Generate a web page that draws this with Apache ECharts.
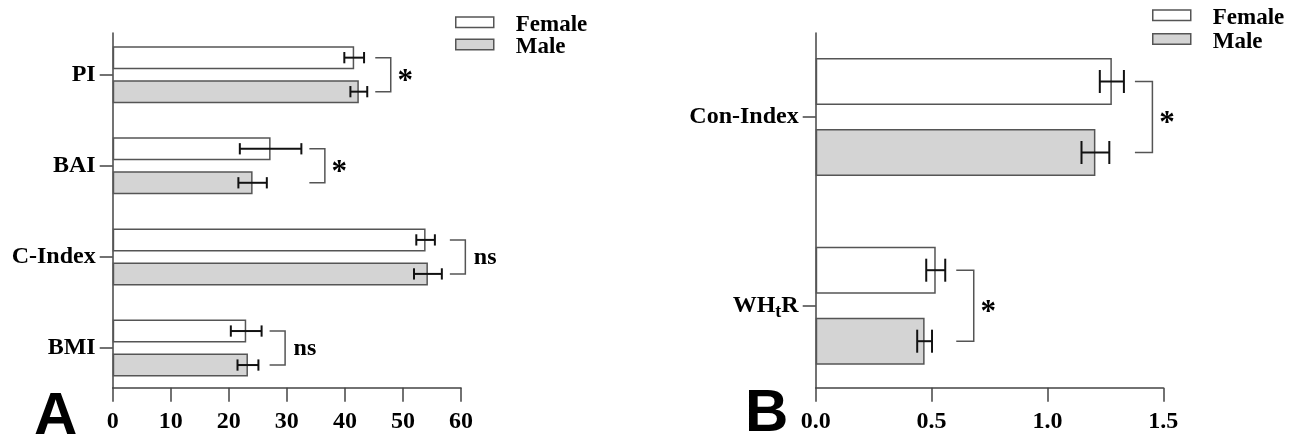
<!DOCTYPE html>
<html><head><meta charset="utf-8">
<script src="https://cdn.jsdelivr.net/npm/echarts@6/dist/echarts.min.js"></script>
<style>html,body{margin:0;padding:0;background:#fff}#c{width:1303px;height:436px}</style>
</head><body><div id="c"></div>
<script>
// ---------- Panel A data ----------
const catsA = ['PI', 'BAI', 'C-Index', 'BMI'];
const femaleA = [41.6, 27.2, 53.9, 23.0];
const femaleErrA = [1.7, 5.3, 1.6, 2.65];
const maleA = [42.4, 24.1, 54.3, 23.3];
const maleErrA = [1.45, 2.45, 2.4, 1.8];
const sigA = ['*', '*', 'ns', 'ns'];
const ticksA = [0, 10, 20, 30, 40, 50, 60];

// ---------- Panel B data ----------
const catsB = ['Con-Index', 'WHtR'];
const femaleB = [1.278, 0.518];
const femaleErrB = [0.052, 0.041];
const maleB = [1.207, 0.470];
const maleErrB = [0.060, 0.032];
const sigB = ['*', '*'];
const ticksB = [0.0, 0.5, 1.0, 1.5];

const seriesNames = ['Female', 'Male'];
const panelLetters = ['A', 'B'];

// ---------- layout / style ----------
const SERIF = '"Liberation Serif","Times New Roman",serif';
const SANS = '"Liberation Sans",Arial,sans-serif';
const AXIS_COLOR = '#444';
const BORDER = '#555';
const MALE_FILL = '#d4d4d4';

const panels = [
  { cats: catsA, f: femaleA, fe: femaleErrA, m: maleA, me: maleErrA, sig: sigA, ticks: ticksA, dec: 0,
    left: 112.7, width: 348.3, barsTop: 29.1, barsH: 364.5, barW: 23, gapPx: 11,
    brGap: 8, brW: 15.5, legendLeft: 455, legendTop: 8.2, legendGap: -5.6,
    letterX: 34, letterY: 421 },
  { cats: catsB, f: femaleB, fe: femaleErrB, m: maleB, me: maleErrB, sig: sigB, ticks: ticksB, dec: 1,
    left: 815.7, width: 347.6, barsTop: 22.65, barsH: 377.4, barW: 47, gapPx: 24,
    brGap: 11, brW: 17.5, legendLeft: 1152, legendTop: 1.2, legendGap: -4.1,
    letterX: 745, letterY: 418 }
];
const AXES_TOP = 33, AXES_H = 354.7;

const grid = [], xAxis = [], yAxis = [], series = [], legend = [], graphic = [];

panels.forEach((p, pi) => {
  p.barGap = (p.gapPx / p.barW * 100).toFixed(2) + '%';
  const ga = pi * 2, gb = pi * 2 + 1;
  const tmin = p.ticks[0], tmax = p.ticks[p.ticks.length - 1], tint = p.ticks[1] - p.ticks[0];
  grid.push({ left: p.left, top: AXES_TOP, width: p.width, height: AXES_H });
  grid.push({ left: p.left, top: p.barsTop, width: p.width, height: p.barsH });

  xAxis.push({
    gridIndex: ga, type: 'value', min: tmin, max: tmax, interval: tint,
    axisLine: { show: true, onZero: false, lineStyle: { color: AXIS_COLOR, width: 1.5 } },
    axisTick: { show: true, length: 14, lineStyle: { color: AXIS_COLOR, width: 1.5 } },
    axisLabel: { margin: 22, color: '#000', fontFamily: SERIF, fontWeight: 'bold', fontSize: 24,
      formatter: v => v.toFixed(p.dec) },
    splitLine: { show: false }
  });
  xAxis.push({ gridIndex: gb, type: 'value', min: tmin, max: tmax, interval: tint, show: false });

  yAxis.push({
    gridIndex: ga, type: 'value', min: 0, max: 1,
    axisLine: { show: true, onZero: false, lineStyle: { color: AXIS_COLOR, width: 1.5 } },
    axisTick: { show: false }, axisLabel: { show: false }, splitLine: { show: false }
  });
  yAxis.push({
    gridIndex: gb, type: 'category', data: p.cats, inverse: true,
    axisLine: { show: false },
    axisTick: { show: true, alignWithLabel: true, interval: 0, length: 13, lineStyle: { color: AXIS_COLOR, width: 1.5 } },
    axisLabel: {
      interval: 0, margin: 17, color: '#000',
      formatter: v => v === 'WHtR' ? '{n|WH}{s|t}{n|R}' : '{n|' + v + '}',
      rich: {
        n: { fontFamily: SERIF, fontWeight: 'bold', fontSize: 24, color: '#000' },
        s: { fontFamily: SERIF, fontWeight: 'bold', fontSize: 18, color: '#000', padding: [14, 0, 0, 0] }
      }
    },
    splitLine: { show: false }
  });

  const vals = [p.f, p.m], errs = [p.fe, p.me];
  seriesNames.forEach((nm, k) => {
    series.push({
      name: nm, type: 'bar', xAxisIndex: gb, yAxisIndex: gb,
      data: vals[k], barWidth: p.barW, barGap: p.barGap,
      itemStyle: { color: k === 0 ? '#ffffff' : MALE_FILL, borderColor: BORDER, borderWidth: 1.5 },
      emphasis: { disabled: true }, animation: false
    });
  });
  seriesNames.forEach((nm, k) => {
    series.push({
      name: nm, type: 'custom', xAxisIndex: gb, yAxisIndex: gb, z: 5, animation: false,
      data: vals[k].map((v, i) => [v, i, errs[k][i]]),
      encode: { x: 0, y: 1 },
      renderItem: (params, api) => {
        const v = api.value(0), i = api.value(1), e = api.value(2);
        const lay = api.barLayout({ barWidth: p.barW, barGap: p.barGap, count: 2 });
        const y = api.coord([v, i])[1] + lay[k].offsetCenter;
        const x1 = api.coord([v - e, i])[0], x2 = api.coord([v + e, i])[0];
        const h = p.barW * 0.49 / 2;
        const st = { stroke: '#111', lineWidth: 2 };
        return { type: 'group', children: [
          { type: 'line', shape: { x1: x1, y1: y, x2: x2, y2: y }, style: st },
          { type: 'line', shape: { x1: x1, y1: y - h, x2: x1, y2: y + h }, style: st },
          { type: 'line', shape: { x1: x2, y1: y - h, x2: x2, y2: y + h }, style: st }
        ] };
      }
    });
  });
  series.push({
    type: 'custom', xAxisIndex: gb, yAxisIndex: gb, z: 5, animation: false, silent: true,
    data: p.sig.map((s, i) => [0, i]), encode: { x: 0, y: 1 },
    renderItem: (params, api) => {
      const i = api.value(1);
      const lay = api.barLayout({ barWidth: p.barW, barGap: p.barGap, count: 2 });
      const yc = api.coord([0, i])[1];
      const yF = yc + lay[0].offsetCenter, yM = yc + lay[1].offsetCenter;
      const reach = Math.max(p.f[i] + p.fe[i], p.m[i] + p.me[i]);
      const x0 = api.coord([reach, i])[0] + p.brGap, x1 = x0 + p.brW;
      const st = { stroke: BORDER, lineWidth: 1.5, fill: null };
      const mid = (yF + yM) / 2;
      const label = p.sig[i];
      const isStar = label === '*';
      return { type: 'group', children: [
        { type: 'polyline', shape: { points: [[x0, yF], [x1, yF], [x1, yM], [x0, yM]] }, style: st },
        { type: 'text', style: {
            text: label, x: isStar ? x1 + 14.5 : x1 + 8.5, y: isStar ? mid + 7 : mid + 1,
            align: isStar ? 'center' : 'left', verticalAlign: 'middle',
            font: 'bold ' + (isStar ? 31 : 24) + 'px ' + SERIF, fill: '#000' } }
      ] };
    }
  });

  legend.push({
    data: seriesNames, orient: 'vertical', left: p.legendLeft, top: p.legendTop, padding: 0,
    itemWidth: 38, itemHeight: 10.5, itemGap: p.legendGap, icon: 'rect',
    itemStyle: { borderColor: BORDER, borderWidth: 1.5 },
    formatter: n => '{g|}{t|' + n + '}',
    textStyle: { color: '#000', lineHeight: 21,
      rich: { g: { width: 17 }, t: { fontFamily: SERIF, fontWeight: 'bold', fontSize: 23, color: '#000', lineHeight: 21, padding: [5, 0, 0, 0] } } },
    selectedMode: false
  });

  graphic.push({
    type: 'text', left: p.letterX, top: p.letterY - 34, silent: true,
    style: { text: panelLetters[pi], font: 'bold 60px ' + SANS, fill: '#000' }
  });
});

const chart = echarts.init(document.getElementById('c'));
chart.setOption({
  backgroundColor: '#ffffff', animation: false,
  grid, xAxis, yAxis, series, legend, graphic,
  tooltip: { show: false }
});
</script>
</body></html>
